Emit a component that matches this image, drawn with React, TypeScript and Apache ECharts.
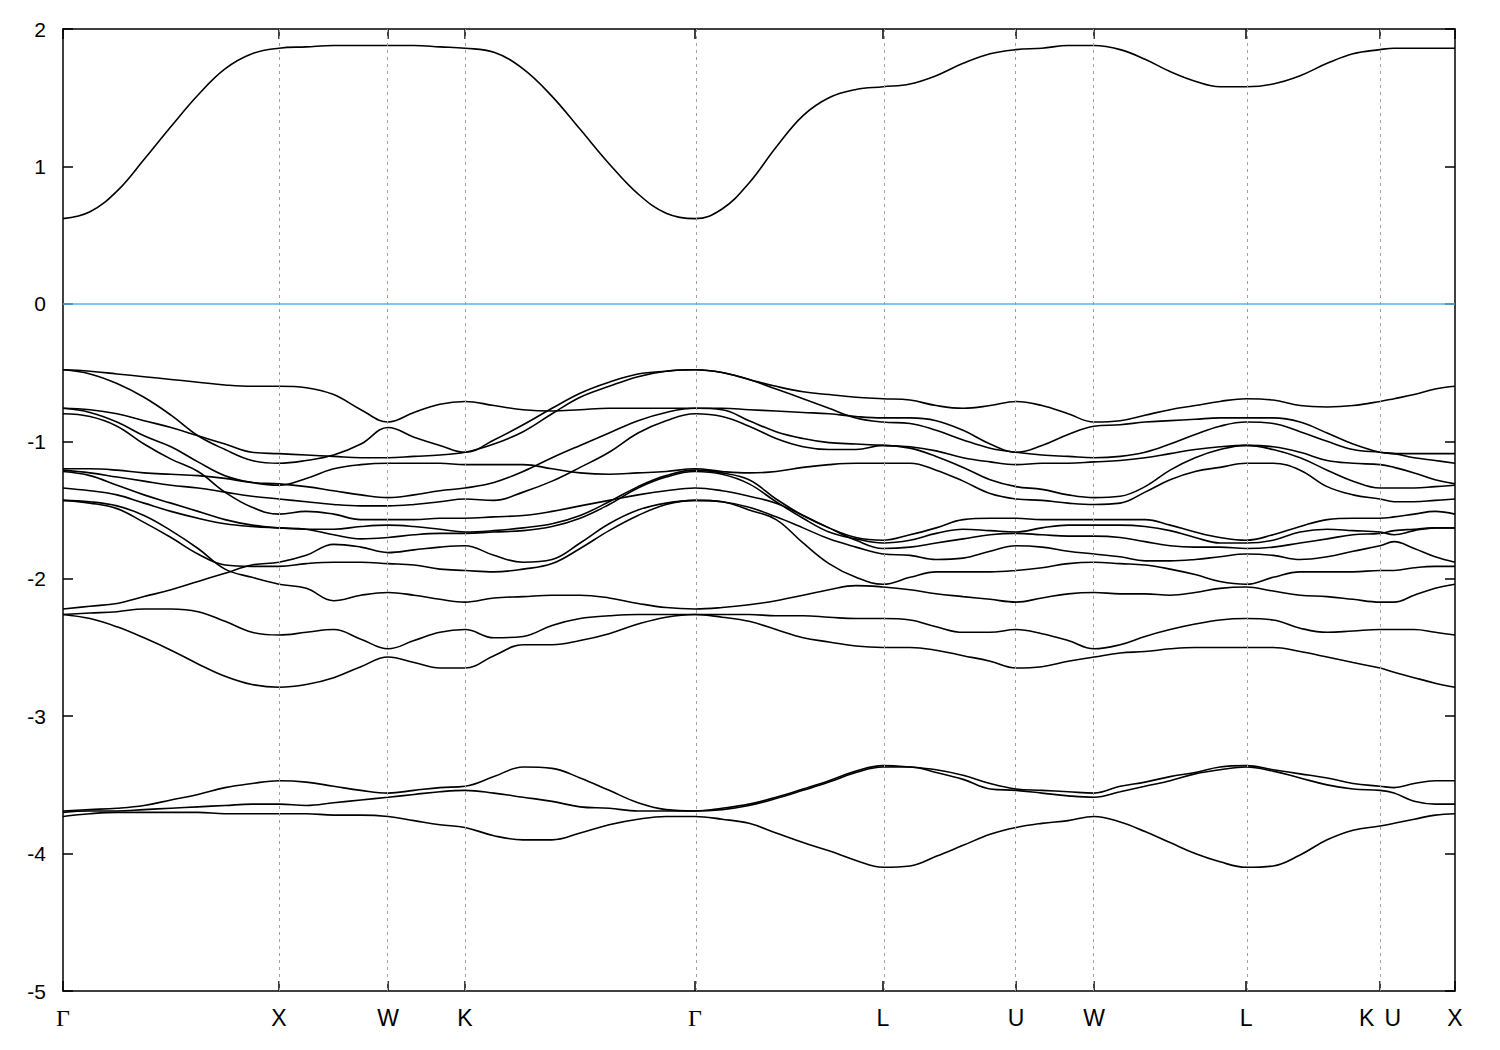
import React, { useEffect, useRef } from 'react';
import * as echarts from 'echarts';

// High-symmetry points along the k-path (path length, Γ-X = 1)
const kTicks = [0, 1.0, 1.505, 1.861, 2.926, 3.796, 4.412, 4.773, 5.477, 6.097, 6.444];
const kTickLabels = ['Γ', 'X', 'W', 'K', 'Γ', 'L', 'U', 'W', 'L', 'K|U', 'X'];
const yTicks = [-5, -4, -3, -2, -1, 0, 1, 2];

// k sample points per segment (endpoints included)
const kGX = [0, 0.125, 0.25, 0.375, 0.5, 0.625, 0.75, 0.875, 1.0];
const kXWK = [1.0, 1.126, 1.253, 1.379, 1.505, 1.625, 1.745, 1.861];
const kKG = [1.861, 1.995, 2.13, 2.264, 2.394, 2.528, 2.662, 2.792, 2.926];
const kGL = [2.926, 3.051, 3.176, 3.301, 3.426, 3.546, 3.671, 3.796];
const kLUW = [3.796, 3.921, 4.042, 4.167, 4.292, 4.412, 4.532, 4.653, 4.773];
const kWL = [4.773, 4.894, 5.009, 5.125, 5.241, 5.356, 5.477];
const kLKX = [5.477, 5.602, 5.727, 5.852, 5.972, 6.097, 6.162, 6.255, 6.352, 6.444];

// Band energies (eV) per segment
const segGX = [
  [0.62, 0.67, 0.82, 1.05, 1.29, 1.52, 1.71, 1.82, 1.86],
  [-0.48, -0.49, -0.51, -0.53, -0.55, -0.57, -0.59, -0.6, -0.6],
  [-0.48, -0.51, -0.58, -0.68, -0.81, -0.96, -1.06, -1.14, -1.16],
  [-0.76, -0.77, -0.8, -0.85, -0.9, -0.96, -1.02, -1.08, -1.09],
  [-0.76, -0.79, -0.86, -0.96, -1.04, -1.15, -1.25, -1.3, -1.32],
  [-0.8, -0.82, -0.89, -1.02, -1.13, -1.22, -1.37, -1.48, -1.53],
  [-1.2, -1.2, -1.21, -1.23, -1.24, -1.25, -1.27, -1.3, -1.31],
  [-1.21, -1.23, -1.26, -1.29, -1.32, -1.34, -1.37, -1.4, -1.42],
  [-1.22, -1.25, -1.32, -1.39, -1.45, -1.51, -1.57, -1.61, -1.63],
  [-1.34, -1.36, -1.39, -1.45, -1.51, -1.56, -1.6, -1.62, -1.63],
  [-1.43, -1.44, -1.47, -1.54, -1.65, -1.78, -1.93, -1.99, -2.04],
  [-1.43, -1.45, -1.49, -1.59, -1.7, -1.82, -1.9, -1.91, -1.91],
  [-2.22, -2.2, -2.18, -2.13, -2.08, -2.02, -1.96, -1.9, -1.88],
  [-2.26, -2.25, -2.24, -2.22, -2.22, -2.24, -2.31, -2.39, -2.41],
  [-2.26, -2.29, -2.35, -2.43, -2.52, -2.62, -2.71, -2.77, -2.79],
  [-3.69, -3.68, -3.67, -3.65, -3.61, -3.57, -3.52, -3.49, -3.47],
  [-3.7, -3.69, -3.69, -3.68, -3.67, -3.66, -3.65, -3.64, -3.64],
  [-3.73, -3.71, -3.7, -3.7, -3.7, -3.7, -3.71, -3.71, -3.71],
];

const segXWK = [
  [1.86, 1.87, 1.88, 1.88, 1.88, 1.88, 1.87, 1.86],
  [-0.6, -0.61, -0.66, -0.77, -0.86, -0.79, -0.73, -0.71],
  [-1.16, -1.14, -1.1, -1.02, -0.9, -0.97, -1.03, -1.08],
  [-1.09, -1.1, -1.11, -1.12, -1.12, -1.11, -1.1, -1.08],
  [-1.32, -1.27, -1.2, -1.17, -1.16, -1.16, -1.16, -1.17],
  [-1.31, -1.33, -1.36, -1.39, -1.41, -1.39, -1.36, -1.34],
  [-1.42, -1.44, -1.46, -1.47, -1.47, -1.46, -1.44, -1.42],
  [-1.53, -1.51, -1.53, -1.57, -1.57, -1.57, -1.56, -1.56],
  [-1.63, -1.64, -1.68, -1.71, -1.7, -1.68, -1.67, -1.67],
  [-1.63, -1.64, -1.64, -1.62, -1.61, -1.62, -1.64, -1.66],
  [-1.88, -1.83, -1.75, -1.77, -1.81, -1.79, -1.77, -1.76],
  [-1.91, -1.89, -1.88, -1.88, -1.89, -1.9, -1.93, -1.94],
  [-2.04, -2.07, -2.16, -2.12, -2.1, -2.12, -2.15, -2.17],
  [-2.41, -2.39, -2.37, -2.44, -2.51, -2.45, -2.39, -2.37],
  [-2.79, -2.77, -2.72, -2.64, -2.57, -2.61, -2.65, -2.65],
  [-3.47, -3.48, -3.51, -3.54, -3.56, -3.54, -3.52, -3.51],
  [-3.64, -3.65, -3.63, -3.61, -3.59, -3.57, -3.55, -3.54],
  [-3.71, -3.71, -3.72, -3.72, -3.73, -3.76, -3.79, -3.81],
];

const segKG = [
  [1.86, 1.83, 1.71, 1.51, 1.27, 1.02, 0.8, 0.66, 0.62],
  [-0.71, -0.74, -0.77, -0.78, -0.77, -0.76, -0.76, -0.76, -0.76],
  [-1.08, -0.99, -0.88, -0.76, -0.65, -0.57, -0.51, -0.49, -0.48],
  [-1.08, -1.02, -0.93, -0.8, -0.68, -0.6, -0.53, -0.49, -0.48],
  [-1.17, -1.17, -1.17, -1.2, -1.23, -1.24, -1.23, -1.22, -1.2],
  [-1.34, -1.3, -1.22, -1.12, -1.03, -0.94, -0.85, -0.79, -0.76],
  [-1.42, -1.43, -1.37, -1.29, -1.19, -1.08, -0.94, -0.85, -0.8],
  [-1.56, -1.55, -1.54, -1.51, -1.47, -1.43, -1.39, -1.36, -1.34],
  [-1.66, -1.65, -1.63, -1.6, -1.54, -1.44, -1.33, -1.25, -1.21],
  [-1.67, -1.66, -1.65, -1.62, -1.56, -1.46, -1.34, -1.26, -1.22],
  [-1.76, -1.83, -1.88, -1.86, -1.74, -1.6, -1.5, -1.45, -1.43],
  [-1.94, -1.95, -1.93, -1.89, -1.78, -1.65, -1.54, -1.46, -1.43],
  [-2.17, -2.14, -2.13, -2.12, -2.12, -2.14, -2.18, -2.21, -2.22],
  [-2.37, -2.43, -2.42, -2.34, -2.29, -2.27, -2.26, -2.26, -2.26],
  [-2.65, -2.56, -2.48, -2.48, -2.45, -2.4, -2.33, -2.28, -2.26],
  [-3.51, -3.44, -3.37, -3.38, -3.45, -3.54, -3.63, -3.68, -3.69],
  [-3.54, -3.56, -3.59, -3.62, -3.66, -3.67, -3.69, -3.69, -3.69],
  [-3.81, -3.87, -3.9, -3.9, -3.85, -3.79, -3.75, -3.73, -3.73],
];

const segGL = [
  [0.62, 0.69, 0.88, 1.14, 1.37, 1.5, 1.56, 1.58],
  [-0.48, -0.5, -0.55, -0.6, -0.64, -0.66, -0.68, -0.69],
  [-0.48, -0.5, -0.55, -0.62, -0.69, -0.76, -0.83, -0.86],
  [-0.76, -0.76, -0.77, -0.78, -0.79, -0.8, -0.82, -0.83],
  [-0.76, -0.77, -0.85, -0.93, -0.98, -1.01, -1.02, -1.03],
  [-0.8, -0.82, -0.89, -0.98, -1.04, -1.06, -1.06, -1.03],
  [-1.2, -1.22, -1.23, -1.22, -1.19, -1.17, -1.16, -1.16],
  [-1.21, -1.23, -1.28, -1.42, -1.54, -1.63, -1.7, -1.72],
  [-1.22, -1.24, -1.31, -1.44, -1.56, -1.66, -1.71, -1.74],
  [-1.34, -1.36, -1.4, -1.45, -1.54, -1.63, -1.72, -1.78],
  [-1.43, -1.44, -1.48, -1.55, -1.63, -1.71, -1.77, -1.82],
  [-1.43, -1.44, -1.5, -1.57, -1.74, -1.89, -1.99, -2.04],
  [-2.22, -2.21, -2.19, -2.16, -2.12, -2.08, -2.05, -2.06],
  [-2.26, -2.26, -2.26, -2.27, -2.27, -2.28, -2.29, -2.29],
  [-2.26, -2.28, -2.31, -2.37, -2.43, -2.46, -2.49, -2.5],
  [-3.69, -3.67, -3.64, -3.59, -3.53, -3.47, -3.4, -3.36],
  [-3.69, -3.68, -3.65, -3.6, -3.54, -3.48, -3.41, -3.37],
  [-3.73, -3.75, -3.78, -3.85, -3.92, -3.98, -4.05, -4.1],
];

const segLUW = [
  [1.58, 1.6, 1.66, 1.75, 1.82, 1.85, 1.86, 1.88, 1.88],
  [-0.69, -0.7, -0.74, -0.76, -0.74, -0.71, -0.74, -0.8, -0.86],
  [-0.83, -0.83, -0.85, -0.92, -1.02, -1.08, -1.03, -0.95, -0.89],
  [-0.86, -0.87, -0.92, -0.99, -1.05, -1.08, -1.1, -1.11, -1.12],
  [-1.03, -1.04, -1.07, -1.12, -1.15, -1.17, -1.16, -1.16, -1.15],
  [-1.03, -1.05, -1.11, -1.19, -1.28, -1.33, -1.35, -1.39, -1.41],
  [-1.16, -1.16, -1.21, -1.29, -1.38, -1.42, -1.43, -1.45, -1.46],
  [-1.72, -1.68, -1.63, -1.57, -1.56, -1.56, -1.57, -1.57, -1.57],
  [-1.74, -1.72, -1.67, -1.64, -1.65, -1.66, -1.63, -1.61, -1.61],
  [-1.78, -1.77, -1.74, -1.71, -1.68, -1.67, -1.68, -1.69, -1.69],
  [-1.82, -1.83, -1.86, -1.85, -1.8, -1.76, -1.77, -1.8, -1.82],
  [-2.04, -1.99, -1.95, -1.95, -1.95, -1.94, -1.92, -1.89, -1.88],
  [-2.06, -2.08, -2.11, -2.13, -2.15, -2.17, -2.14, -2.11, -2.1],
  [-2.29, -2.3, -2.35, -2.39, -2.39, -2.37, -2.4, -2.45, -2.51],
  [-2.5, -2.5, -2.52, -2.56, -2.6, -2.65, -2.64, -2.6, -2.57],
  [-3.36, -3.37, -3.39, -3.43, -3.49, -3.53, -3.54, -3.55, -3.56],
  [-3.37, -3.37, -3.41, -3.46, -3.53, -3.54, -3.56, -3.58, -3.59],
  [-4.1, -4.09, -4.02, -3.94, -3.86, -3.81, -3.78, -3.76, -3.73],
];

const segWL = [
  [1.88, 1.85, 1.78, 1.69, 1.62, 1.58, 1.58],
  [-0.86, -0.85, -0.81, -0.77, -0.74, -0.71, -0.69],
  [-0.89, -0.88, -0.86, -0.85, -0.84, -0.83, -0.83],
  [-1.12, -1.11, -1.08, -1.02, -0.95, -0.89, -0.86],
  [-1.15, -1.14, -1.12, -1.09, -1.06, -1.04, -1.03],
  [-1.41, -1.4, -1.33, -1.21, -1.12, -1.06, -1.03],
  [-1.46, -1.45, -1.37, -1.28, -1.22, -1.19, -1.16],
  [-1.57, -1.57, -1.57, -1.61, -1.66, -1.7, -1.72],
  [-1.61, -1.61, -1.62, -1.65, -1.7, -1.74, -1.74],
  [-1.69, -1.7, -1.73, -1.76, -1.77, -1.77, -1.78],
  [-1.82, -1.84, -1.87, -1.87, -1.86, -1.84, -1.82],
  [-1.88, -1.89, -1.9, -1.93, -1.97, -2.02, -2.04],
  [-2.1, -2.11, -2.11, -2.12, -2.1, -2.07, -2.06],
  [-2.51, -2.48, -2.42, -2.37, -2.33, -2.3, -2.29],
  [-2.57, -2.54, -2.53, -2.51, -2.5, -2.5, -2.5],
  [-3.56, -3.51, -3.48, -3.44, -3.41, -3.37, -3.36],
  [-3.59, -3.55, -3.51, -3.47, -3.42, -3.39, -3.37],
  [-3.73, -3.77, -3.84, -3.92, -4.0, -4.06, -4.1],
];

const segLKX = [
  [1.58, 1.6, 1.66, 1.75, 1.82, 1.85, 1.86, 1.86, 1.86, 1.86],
  [-0.69, -0.7, -0.74, -0.75, -0.74, -0.71, -0.69, -0.66, -0.62, -0.6],
  [-0.83, -0.83, -0.86, -0.94, -1.02, -1.08, -1.09, -1.12, -1.14, -1.16],
  [-0.86, -0.87, -0.93, -1.0, -1.06, -1.08, -1.09, -1.09, -1.09, -1.09],
  [-1.03, -1.04, -1.08, -1.14, -1.16, -1.17, -1.19, -1.23, -1.28, -1.31],
  [-1.03, -1.06, -1.12, -1.21, -1.29, -1.34, -1.34, -1.34, -1.33, -1.32],
  [-1.16, -1.16, -1.21, -1.33, -1.39, -1.42, -1.44, -1.44, -1.43, -1.42],
  [-1.72, -1.68, -1.62, -1.57, -1.56, -1.56, -1.55, -1.53, -1.51, -1.53],
  [-1.74, -1.72, -1.66, -1.64, -1.65, -1.66, -1.68, -1.65, -1.63, -1.63],
  [-1.78, -1.77, -1.74, -1.71, -1.68, -1.67, -1.65, -1.64, -1.63, -1.63],
  [-1.82, -1.83, -1.86, -1.84, -1.8, -1.76, -1.73, -1.78, -1.84, -1.88],
  [-2.04, -1.99, -1.95, -1.95, -1.95, -1.94, -1.94, -1.92, -1.91, -1.91],
  [-2.06, -2.09, -2.12, -2.13, -2.15, -2.17, -2.17, -2.12, -2.07, -2.04],
  [-2.29, -2.3, -2.36, -2.39, -2.38, -2.37, -2.37, -2.37, -2.39, -2.41],
  [-2.5, -2.5, -2.53, -2.57, -2.61, -2.65, -2.68, -2.72, -2.76, -2.79],
  [-3.36, -3.39, -3.42, -3.45, -3.49, -3.51, -3.52, -3.49, -3.47, -3.47],
  [-3.37, -3.4, -3.45, -3.5, -3.53, -3.54, -3.56, -3.62, -3.64, -3.64],
  [-4.1, -4.09, -4.01, -3.9, -3.83, -3.8, -3.78, -3.75, -3.72, -3.71],
];

const kSegments = [kGX, kXWK, kKG, kGL, kLUW, kWL, kLKX];
const bandSegments = [segGX, segXWK, segKG, segGL, segLUW, segWL, segLKX];

function buildPath(): number[] {
  const out: number[] = [];
  kSegments.forEach((seg, s) => {
    (s === 0 ? seg : seg.slice(1)).forEach((k) => out.push(k));
  });
  return out;
}

function joinBands(): number[][] {
  const chains = bandSegments[0].map((b) => b.slice());
  for (let s = 1; s < bandSegments.length; s++) {
    const seg = bandSegments[s];
    const ci = chains.map((_, i) => i).sort((a, b) => chains[b][chains[b].length - 1] - chains[a][chains[a].length - 1]);
    const si = seg.map((_, i) => i).sort((a, b) => seg[b][0] - seg[a][0]);
    ci.forEach((c, j) => {
      seg[si[j]].slice(1).forEach((v) => chains[c].push(v));
    });
  }
  return chains;
}

const FONT = "'Liberation Sans', Arial, sans-serif";

function tickLabel(v: number): string {
  let idx = -1;
  kTicks.forEach((t, i) => {
    if (Math.abs(t - v) < 1e-6) idx = i;
  });
  if (idx < 0) return '';
  const lab = kTickLabels[idx];
  if (lab === 'Γ') return '{g|Γ}';
  if (lab === 'K|U') return '{k|K}{u|U}';
  return lab;
}

export default function App() {
  const ref = useRef<HTMLDivElement>(null);
  useEffect(() => {
    if (!ref.current) return;
    const chart = echarts.init(ref.current, undefined, { renderer: 'svg' });
    const kPath = buildPath();
    const bands = joinBands();

    const axisLineStyle = { color: '#000', width: 1.5 };
    const xAxisBase = {
      type: 'value',
      min: kTicks[0],
      max: kTicks[kTicks.length - 1],
      axisLine: { show: true, onZero: false, lineStyle: axisLineStyle },
      axisTick: { show: true, inside: true, length: 10, customValues: kTicks, lineStyle: axisLineStyle },
      splitLine: { show: false },
    };
    const yAxisBase = {
      type: 'value',
      min: yTicks[0],
      max: yTicks[yTicks.length - 1],
      interval: 1,
      axisLine: { show: true, onZero: false, lineStyle: axisLineStyle },
      axisTick: { show: true, inside: true, length: 10, lineStyle: axisLineStyle },
      splitLine: { show: false },
    };

    const series: any[] = [
      {
        type: 'line',
        data: [],
        z: 1,
        silent: true,
        markLine: {
          silent: true,
          symbol: 'none',
          label: { show: false },
          data: [
            ...kTicks.slice(1, -1).map((t) => ({
              xAxis: t,
              lineStyle: { color: '#a0a0a0', width: 1, type: [3, 4] },
            })),
            { yAxis: 0, lineStyle: { color: '#56b4e9', width: 1.6, type: 'solid' } },
          ],
        },
      },
    ];
    bands.forEach((b) => {
      series.push({
        type: 'line',
        data: b.map((v, i) => [kPath[i], v]),
        showSymbol: false,
        smooth: 0.4,
        z: 2,
        lineStyle: { color: '#000', width: 1.6 },
        silent: true,
      });
    });

    chart.setOption({
      animation: false,
      backgroundColor: '#fff',
      grid: { left: 63, top: 29, width: 1392, height: 962, containLabel: false },
      xAxis: [
        {
          ...xAxisBase,
          position: 'bottom',
          axisLabel: {
            show: true,
            customValues: kTicks,
            formatter: (v: number) => tickLabel(v),
            color: '#000',
            fontFamily: FONT,
            fontSize: 23,
            margin: 15,
            rich: {
              g: { fontFamily: "'Liberation Serif', 'DejaVu Serif', serif", fontSize: 24, color: '#000' },
              k: { fontFamily: FONT, fontSize: 23, color: '#000', padding: [0, 10, 0, 0] },
              u: { fontFamily: FONT, fontSize: 23, color: '#000' },
            },
          },
        },
        {
          ...xAxisBase,
          position: 'top',
          axisLabel: { show: false },
        },
      ],
      yAxis: [
        {
          ...yAxisBase,
          position: 'left',
          axisLabel: { show: true, color: '#000', fontFamily: FONT, fontSize: 21, margin: 17 },
        },
        {
          ...yAxisBase,
          position: 'right',
          axisLabel: { show: false },
        },
      ],
      series,
    });
    return () => chart.dispose();
  }, []);
  return (
    <div
      ref={ref}
      style={{ position: 'absolute', left: 0, top: 0, width: 1500, height: 1050, background: '#fff' }}
    />
  );
}
